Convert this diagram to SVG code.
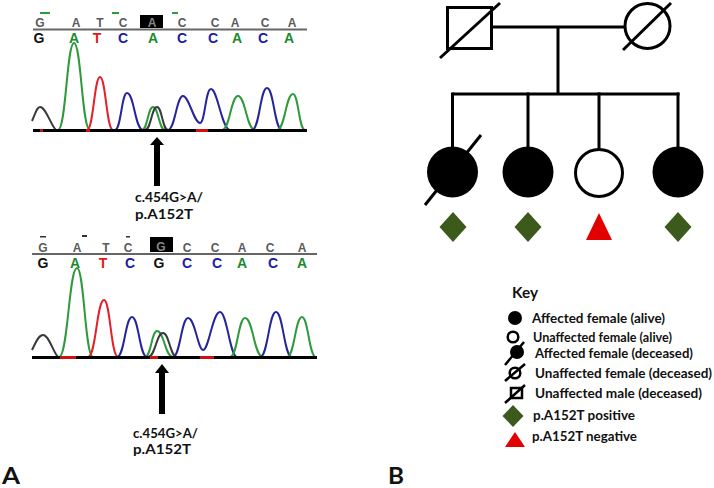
<svg xmlns="http://www.w3.org/2000/svg" width="714" height="488" viewBox="0 0 714 488">
<style>
.tr{fill:none;stroke-width:2;stroke-linejoin:round}
.g{stroke:#2e9a3c}.r{stroke:#e4202a}.b{stroke:#25259a}.k{stroke:#3a3a3a}
.top{font-family:"Liberation Sans",Arial,sans-serif;font-size:12px;font-weight:bold;fill:#5a5a5a;text-anchor:middle}
.bot{font-family:"Liberation Sans",Arial,sans-serif;font-size:14px;font-weight:bold;text-anchor:middle}
.lbl{font-family:Lato,"Liberation Sans",Arial,sans-serif;font-weight:bold;fill:#111}
.ln{stroke:#000;stroke-width:3;fill:none}
.pos{fill:#3b5a1c}.neg{fill:#e30000}
</style>
<rect width="714" height="488" fill="#fff"/>

<!-- Chromatogram 1 -->
<g id="chrom1">
<g fill="#2e9a3c"><rect x="40" y="12" width="10" height="2"/><rect x="112" y="12" width="7" height="2"/><rect x="172" y="12" width="6" height="2"/></g>
<rect x="140" y="15" width="23" height="13" fill="#000"/>
<g class="top"><text x="40" y="27">G</text><text x="76" y="27">A</text><text x="100" y="27">T</text><text x="123" y="27">C</text><text x="152" y="27" fill="#888">A</text><text x="182" y="27">C</text><text x="215" y="27">C</text><text x="235" y="27">A</text><text x="265" y="27">C</text><text x="292" y="27">A</text></g>
<line x1="33" y1="29.5" x2="307" y2="29.5" stroke="#666" stroke-width="2"/>
<g class="bot"><text x="39" y="43" fill="#111">G</text><text x="74" y="43" fill="#1c8a2c">A</text><text x="97" y="43" fill="#e01818">T</text><text x="123" y="43" fill="#1c1ca0">C</text><text x="153" y="43" fill="#1c8a2c">A</text><text x="182" y="43" fill="#1c1ca0">C</text><text x="213" y="43" fill="#1c1ca0">C</text><text x="237" y="43" fill="#1c8a2c">A</text><text x="263" y="43" fill="#1c1ca0">C</text><text x="289" y="43" fill="#1c8a2c">A</text></g>
<path class="tr k" d="M32,121 C36,112 37,107 40,107 C46,107 51,126 56,130"/>
<path class="tr g" d="M58,130 C66,130 66.8,43 74,43 C81.2,43 82,130 90,130"/>
<path class="tr r" d="M87,130 C93.5,130 94.2,77 100,77 C105.8,77 106.5,130 113,130"/>
<path class="tr b" d="M115,130 C121,130 121.6,93 127,93 C134.2,93 135,130 143,130"/>
<path class="tr g" d="M142,130 C147.5,130 148,107 153,107 C158.4,107 159,130 165,130"/>
<path class="tr k" d="M145,130 C151,130 151.6,107 157,107 C162,107 162.5,130 168,130"/>
<path class="tr b" d="M168,130 C175,130 176.5,96 183,96 C189,96 194,123 200,123 C205,123 205.5,89 211,89 C217.5,89 222,130 230,130"/>
<path class="tr g" d="M222,130 C230,130 230.8,96 238,96 C245.6,96 246.5,130 255,130"/>
<path class="tr b" d="M252,130 C259.5,130 260.2,88 267,88 C273.8,88 274.5,130 282,130"/>
<path class="tr g" d="M277,130 C285,130 285.8,94 293,94 C298.4,94 299,130 305,130"/>
<line x1="33" y1="130.5" x2="307" y2="130.5" stroke="#000" stroke-width="3"/>
<g fill="#d01010"><rect x="86" y="129" width="4" height="3"/><rect x="196" y="129" width="12" height="3"/><rect x="40" y="129" width="3" height="3"/></g>
</g>

<g id="arrow1">
<polygon points="150,145 157,137 164,145" fill="#000"/>
<rect x="154" y="143" width="6" height="43" fill="#000"/>
<text class="lbl" x="135" y="202" font-size="13" textLength="68" lengthAdjust="spacingAndGlyphs">c.454G&gt;A/</text>
<text class="lbl" x="135" y="219" font-size="13" textLength="58" lengthAdjust="spacingAndGlyphs">p.A152T</text>
</g>

<!-- Chromatogram 2 -->
<g id="chrom2">
<g fill="#333"><rect x="40" y="236" width="6" height="1.5"/><rect x="82" y="235" width="5" height="2"/><rect x="126" y="236" width="4" height="1.5"/></g>
<rect x="150" y="237" width="23" height="15" fill="#000"/>
<g class="top"><text x="43" y="252">G</text><text x="77" y="252">A</text><text x="106" y="252">T</text><text x="128" y="252">C</text><text x="161" y="251" fill="#888">G</text><text x="187" y="252">C</text><text x="215" y="252">C</text><text x="242" y="252">A</text><text x="270" y="252">C</text><text x="302" y="252">A</text></g>
<line x1="32" y1="254" x2="317" y2="254" stroke="#666" stroke-width="2"/>
<g class="bot"><text x="43" y="268" fill="#111">G</text><text x="75" y="268" fill="#1c8a2c">A</text><text x="103" y="268" fill="#e01818">T</text><text x="130" y="268" fill="#1c1ca0">C</text><text x="159" y="268" fill="#111">G</text><text x="187" y="268" fill="#1c1ca0">C</text><text x="217" y="268" fill="#1c1ca0">C</text><text x="242" y="268" fill="#1c8a2c">A</text><text x="273" y="268" fill="#1c1ca0">C</text><text x="302" y="268" fill="#1c8a2c">A</text></g>
<path class="tr k" d="M32,350 C36,342 38.5,335 43,335 C49,335 53,352 58,357"/>
<path class="tr g" d="M59,357 C68,357 68.9,268 77,268 C84.2,268 85,357 93,357"/>
<path class="tr r" d="M88,357 C96,357 96.8,300 104,300 C110.3,300 111,357 118,357"/>
<path class="tr b" d="M117,357 C124.5,357 125.2,317 132,317 C138.8,317 139.5,357 147,357"/>
<path class="tr g" d="M145,357 C151,357 151.6,331 157,331 C164.2,331 165,357 173,357"/>
<path class="tr k" d="M148,357 C155.5,357 156.2,333 163,333 C169.3,333 170,357 177,357"/>
<path class="tr b" d="M173,357 C180,357 181.5,318 188,318 C195,318 198,350 203,350 C209,350 212.5,312 220,312 C227,312 230,357 237,357"/>
<path class="tr g" d="M230,357 C237.5,357 238.2,318 245,318 C253.1,318 254,357 263,357"/>
<path class="tr b" d="M260,357 C268,357 268.8,312 276,312 C283.2,312 284,357 292,357"/>
<path class="tr g" d="M287,357 C294.5,357 295.2,317 302,317 C308.3,317 309,357 316,357"/>
<line x1="32" y1="357.5" x2="317" y2="357.5" stroke="#000" stroke-width="3"/>
<g fill="#d01010"><rect x="60" y="356" width="16" height="3"/><rect x="150" y="356" width="8" height="3"/><rect x="200" y="356" width="14" height="3"/></g>
</g>

<g id="arrow2">
<polygon points="155,373 162,364 169,373" fill="#000"/>
<rect x="159" y="371" width="6" height="43" fill="#000"/>
<text class="lbl" x="133" y="438" font-size="13" textLength="65" lengthAdjust="spacingAndGlyphs">c.454G&gt;A/</text>
<text class="lbl" x="133" y="454" font-size="13" textLength="58" lengthAdjust="spacingAndGlyphs">p.A152T</text>
</g>

<text class="lbl" x="2" y="484" font-size="22" textLength="18" lengthAdjust="spacingAndGlyphs">A</text>
<text class="lbl" x="388" y="484" font-size="22" textLength="16" lengthAdjust="spacingAndGlyphs">B</text>

<!-- Pedigree -->
<g id="connectors" class="ln">
<line x1="493" y1="27" x2="624" y2="27"/>
<line x1="558" y1="27" x2="558" y2="95"/>
<line x1="452" y1="94" x2="679.5" y2="94"/>
<line x1="452.5" y1="92.5" x2="452.5" y2="148"/>
<line x1="528" y1="92.5" x2="528" y2="148"/>
<line x1="599" y1="92.5" x2="599" y2="149"/>
<line x1="678" y1="92.5" x2="678" y2="148"/>
</g>
<g id="father">
<rect x="447.5" y="7.5" width="44" height="41" class="ln"/>
<line x1="440" y1="58" x2="500" y2="3" class="ln"/>
</g>
<g id="mother">
<circle cx="647.5" cy="26" r="22.5" class="ln"/>
<line x1="623" y1="50" x2="671" y2="3" class="ln"/>
</g>
<g id="child1">
<circle cx="452.5" cy="172" r="25.5" fill="#000"/>
<line x1="425" y1="205" x2="481" y2="135" class="ln"/>
<polygon class="pos" points="453,212 466.5,227 453,242 439.5,227"/>
</g>
<g id="child2">
<circle cx="528" cy="172" r="25.5" fill="#000"/>
<polygon class="pos" points="528,212 541.5,227 528,242 514.5,227"/>
</g>
<g id="child3">
<circle cx="599" cy="173" r="23.5" fill="#fff" class="ln"/>
<polygon class="neg" points="586,240 599,213 612,240"/>
</g>
<g id="child4">
<circle cx="678" cy="172" r="25.5" fill="#000"/>
<polygon class="pos" points="678,212 691.5,227 678,242 664.5,227"/>
</g>

<!-- Key -->
<g id="key">
<text class="lbl" x="512" y="298" font-size="16" textLength="26" lengthAdjust="spacingAndGlyphs">Key</text>
<circle cx="515" cy="318" r="7" fill="#000"/>
<text class="lbl" x="532" y="323" font-size="13" textLength="133" lengthAdjust="spacingAndGlyphs">Affected female (alive)</text>
<circle cx="513" cy="337" r="5.3" fill="none" stroke="#000" stroke-width="2.5"/>
<text class="lbl" x="533" y="342" font-size="13" textLength="139" lengthAdjust="spacingAndGlyphs">Unaffected female (alive)</text>
<circle cx="517" cy="352" r="7" fill="#000"/>
<line x1="505" y1="365" x2="524" y2="342" stroke="#000" stroke-width="2.5"/>
<text class="lbl" x="535" y="358" font-size="13" textLength="158" lengthAdjust="spacingAndGlyphs">Affected female (deceased)</text>
<circle cx="515" cy="373" r="5.3" fill="none" stroke="#000" stroke-width="2.5"/>
<line x1="505" y1="381" x2="525" y2="364" stroke="#000" stroke-width="2.5"/>
<text class="lbl" x="535" y="378" font-size="13" textLength="177" lengthAdjust="spacingAndGlyphs">Unaffected female (deceased)</text>
<rect x="511" y="388" width="11" height="10" fill="none" stroke="#000" stroke-width="2.5"/>
<line x1="505" y1="403" x2="525" y2="385" stroke="#000" stroke-width="2.5"/>
<text class="lbl" x="535" y="398" font-size="13" textLength="167" lengthAdjust="spacingAndGlyphs">Unaffected male (deceased)</text>
<polygon class="pos" points="513,405 523.5,416 513,427 502.5,416"/>
<text class="lbl" x="533" y="420" font-size="13" textLength="102" lengthAdjust="spacingAndGlyphs">p.A152T positive</text>
<polygon class="neg" points="505,447 515,432 525,447"/>
<text class="lbl" x="532" y="441" font-size="13" textLength="105" lengthAdjust="spacingAndGlyphs">p.A152T negative</text>
</g>
</svg>
